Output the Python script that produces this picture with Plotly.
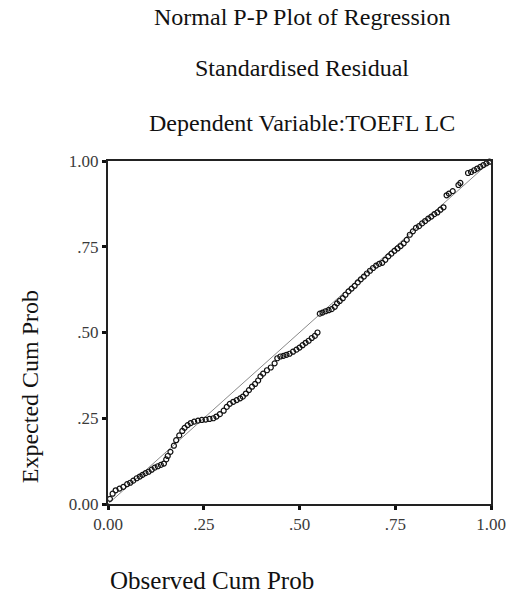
import plotly.graph_objects as go

observed = [0.005, 0.012, 0.02, 0.03, 0.04, 0.05, 0.058, 0.066, 0.075, 0.083, 0.09, 0.098,
            0.106, 0.114, 0.122, 0.13, 0.138, 0.146, 0.152, 0.156, 0.163, 0.172, 0.178, 0.186,
            0.194, 0.2, 0.208, 0.216, 0.225, 0.235, 0.245, 0.255, 0.265, 0.275, 0.283, 0.292,
            0.302, 0.31, 0.318, 0.327, 0.336, 0.345, 0.352, 0.36, 0.368, 0.376, 0.384, 0.392,
            0.398, 0.405, 0.415, 0.425, 0.435, 0.442, 0.45, 0.458, 0.466, 0.474, 0.483, 0.492,
            0.5, 0.508, 0.516, 0.524, 0.532, 0.54, 0.547, 0.553, 0.56, 0.568, 0.576, 0.584,
            0.592, 0.598, 0.605, 0.613, 0.62, 0.628, 0.636, 0.644, 0.652, 0.66, 0.668, 0.676,
            0.684, 0.692, 0.7, 0.708, 0.716, 0.724, 0.732, 0.74, 0.748, 0.756, 0.764, 0.772,
            0.78, 0.788, 0.796, 0.804, 0.812, 0.82, 0.828, 0.836, 0.844, 0.852, 0.86, 0.868,
            0.876, 0.884, 0.89, 0.9, 0.915, 0.92, 0.94, 0.948, 0.956, 0.964, 0.972, 0.98,
            0.988, 0.996]
expected = [0.015, 0.03, 0.04, 0.045, 0.05, 0.058, 0.062, 0.068, 0.075, 0.08, 0.085, 0.09,
            0.094, 0.1, 0.106, 0.11, 0.114, 0.118, 0.13, 0.14, 0.152, 0.17, 0.186, 0.2,
            0.213, 0.222, 0.23, 0.236, 0.24, 0.243, 0.245, 0.246, 0.248, 0.25, 0.255, 0.262,
            0.272, 0.283, 0.292, 0.298, 0.303, 0.308, 0.313, 0.322, 0.332, 0.342, 0.35, 0.36,
            0.372, 0.38, 0.39, 0.398, 0.41, 0.425, 0.43, 0.432, 0.435, 0.438, 0.444, 0.45,
            0.456, 0.463, 0.47, 0.476, 0.484, 0.49, 0.5, 0.555, 0.558, 0.562, 0.565, 0.568,
            0.575, 0.585, 0.592, 0.6, 0.61, 0.62, 0.628, 0.636, 0.646, 0.655, 0.663, 0.672,
            0.68, 0.688, 0.695, 0.7, 0.703, 0.712, 0.722, 0.73, 0.738, 0.745, 0.752, 0.76,
            0.77, 0.785, 0.795, 0.805, 0.81, 0.818, 0.825, 0.832, 0.838, 0.845, 0.85, 0.858,
            0.865, 0.9, 0.905, 0.912, 0.93, 0.936, 0.965, 0.968, 0.973, 0.978, 0.983, 0.988,
            0.993, 0.998]

diag = [0, 1]
tick_vals = [0, 0.25, 0.5, 0.75, 1.0]
tick_text = ["0.00", ".25", ".50", ".75", "1.00"]

title_lines = ["Normal P-P Plot of Regression", "Standardised Residual",
               "Dependent Variable:TOEFL LC"]
x_title = "Observed Cum Prob"
y_title = "Expected Cum Prob"

FONT = "Liberation Serif, Times New Roman, serif"

fig = go.Figure()
fig.add_trace(go.Scatter(x=diag, y=diag, mode="lines",
                         line=dict(color="#888888", width=1), showlegend=False,
                         hoverinfo="skip"))
fig.add_trace(go.Scatter(x=observed, y=expected, mode="markers",
                         marker=dict(symbol="circle-open", size=5, color="#111111",
                                     line=dict(width=1.2, color="#111111")),
                         showlegend=False, cliponaxis=False))

axis_common = dict(range=[0, 1], tickvals=tick_vals, ticktext=tick_text,
                   showgrid=False, zeroline=False, showline=True, linecolor="#222222",
                   linewidth=2, mirror=True, ticks="outside", ticklen=4, tickwidth=3,
                   tickcolor="#111111",
                   tickfont=dict(family=FONT, size=17, color="#3a3a3a"))
fig.update_xaxes(**axis_common)
fig.update_yaxes(**axis_common)

annotations = []
for txt, ypix in zip(title_lines, [17, 68, 123]):
    annotations.append(dict(text=txt, xref="paper", yref="paper", x=(308 - 108) / 394,
                            y=1 + (161 - ypix) / 343, xanchor="center", yanchor="middle",
                            showarrow=False,
                            font=dict(family=FONT, size=24, color="#111111")))
annotations.append(dict(text=x_title, xref="paper", yref="paper", x=0, y=-(580 - 504) / 343,
                        xanchor="left", yanchor="middle", showarrow=False,
                        font=dict(family=FONT, size=25, color="#111111")))
annotations.append(dict(text=y_title, xref="paper", yref="paper", x=-(108 - 28) / 394,
                        y=(504 - 387) / 343, xanchor="center", yanchor="middle",
                        textangle=-90, showarrow=False,
                        font=dict(family=FONT, size=24, color="#111111")))

fig.update_layout(width=518, height=594, margin=dict(l=108, r=16, t=161, b=90),
                  plot_bgcolor="white", paper_bgcolor="white",
                  annotations=annotations)

fig.write_html("out.html")
